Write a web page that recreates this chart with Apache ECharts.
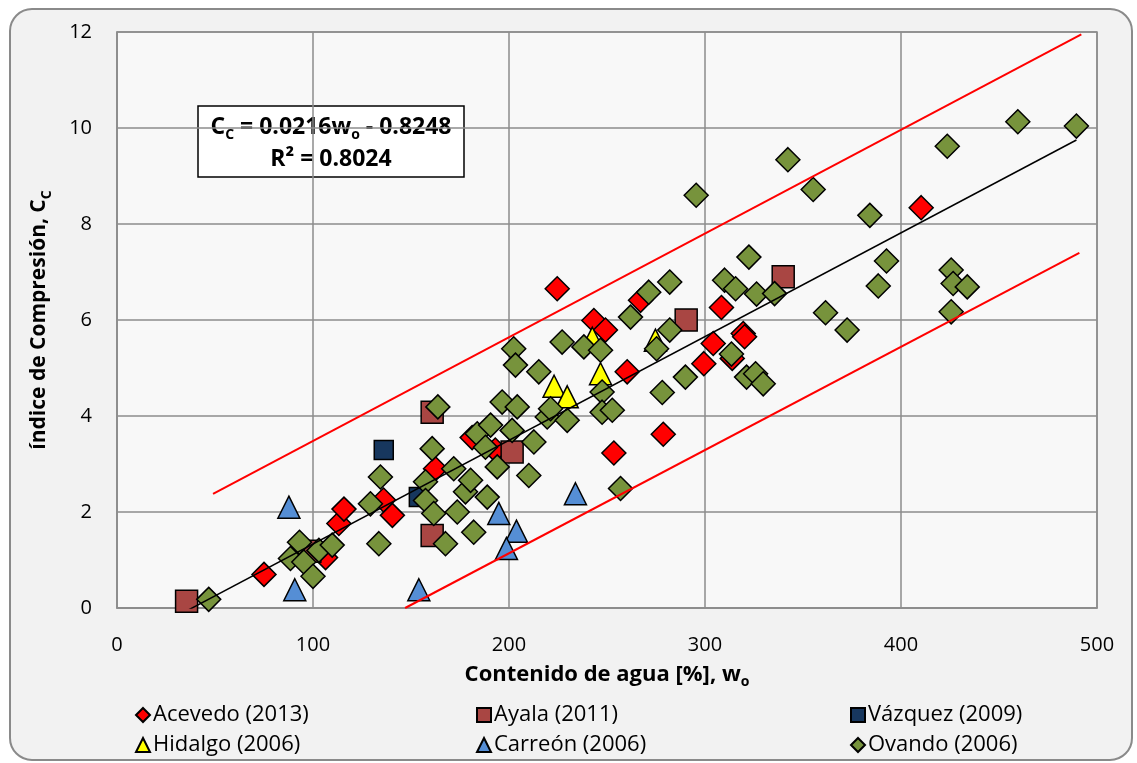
<!DOCTYPE html>
<html>
<head>
<meta charset="utf-8">
<script src="https://cdn.jsdelivr.net/npm/echarts@6/dist/echarts.min.js"></script>
<style>
  html, body { margin: 0; padding: 0; background: #ffffff; }
  #chart { width: 1137px; height: 763px; }
</style>
</head>
<body>
<div id="chart"></div>
<script>
// valores (w0 [%], Cc)
const acevedo = [[75,0.70],[106.4,1.05],[113.2,1.76],[115.8,2.06],[136,2.25],[140.5,1.93],[162.5,2.90],
  [181.2,3.55],[193,3.29],[224.6,6.65],[243.3,5.99],[249.2,5.79],[253.5,3.23],[260.3,4.92],[267.1,6.41],
  [278.7,3.62],[299.4,5.09],[304.2,5.51],[308.4,6.26],[313.9,5.20],[319.5,5.72],[320.2,5.65],[410.3,8.34]];
const ayala = [[35.5,0.14],[98.4,1.18],[160.8,4.08],[160.8,1.51],[201.6,3.25],[290.4,6.00],[339.9,6.90]];
const vazquez = [[136.1,3.29],[154,2.31]];
const hidalgo = [[223,4.62],[229.7,4.40],[246.7,4.88],[242.5,5.62],[274.7,5.58]];
const carreon = [[87.7,2.10],[90.7,0.38],[154,0.38],[194.8,1.97],[203.8,1.60],[198.7,1.24],[233.9,2.38]];
const ovando = [[46.8,0.18],[88.5,1.03],[93.1,1.37],[95.3,0.96],[100,0.66],[103,1.20],[109.8,1.31],
  [129.3,2.17],[133.6,1.34],[134.4,2.73],[157.4,2.63],[157.4,2.24],[160.8,3.32],[161.6,1.97],[163.7,4.19],
  [167.6,1.34],[171.8,2.90],[173.6,2.00],[177.8,2.42],[180.4,2.66],[182,1.58],[183.8,3.63],[188,3.35],
  [188.9,2.31],[190.6,3.81],[194,2.94],[196.5,4.29],[201.6,3.70],[202.4,5.40],[203.3,5.06],[204.2,4.19],
  [210.1,2.76],[212.7,3.46],[215.2,4.92],[219.5,3.98],[221.2,4.15],[227.1,5.54],[229.7,3.91],[238.2,5.44],
  [246.7,5.37],[247.5,4.50],[247.5,4.08],[252.7,4.12],[256.9,2.49],[262,6.06],[271.3,6.58],[275.3,5.40],
  [278.2,4.49],[282,6.79],[282,5.79],[290,4.81],[295.5,8.60],[310,6.83],[313.5,5.29],[315.6,6.65],
  [321.2,4.81],[322.4,7.31],[325.8,4.88],[326.3,6.54],[329.7,4.67],[335.5,6.55],[342.3,9.34],[355.2,8.72],
  [361.5,6.15],[372.5,5.79],[384.1,8.18],[388.4,6.71],[392.6,7.23],[423.6,9.62],[425.6,7.04],[426.6,6.76],
  [433.8,6.69],[425.6,6.17],[459.6,10.13],[489.5,10.04]];
// recta de ajuste y limites
const trendLine = [[36,-0.05],[489.5,9.75]];
const upperLine = [[49,2.38],[492,11.95]];
const lowerLine = [[147,0],[491,7.40]];

const xTicks = [0,100,200,300,400,500];
const yTicks = [0,2,4,6,8,10,12];

const FONT = 'Open Sans';
let chart = echarts.init(document.getElementById('chart'));

function pts(name, data, symbol, size, color, z) {
  return {
    name: name,
    type: 'scatter',
    data: data,
    symbol: symbol,
    symbolSize: size,
    itemStyle: { color: color, borderColor: '#000', borderWidth: 1.5, opacity: 1 },
    emphasis: { disabled: true },
    z: z
  };
}

function ln(data, color, w) {
  return {
    type: 'line',
    data: data,
    showSymbol: false,
    silent: true,
    lineStyle: { color: color, width: w },
    z: 10
  };
}

function legendAt(name, left, top) {
  return {
    data: [name],
    left: left,
    top: top,
    itemWidth: 14,
    itemHeight: 14,
    itemGap: 0,
    padding: 0,
    selectedMode: false,
    textStyle: { fontFamily: FONT, fontSize: 22, color: '#000', padding: [0, 0, 0, -2] }
  };
}

let option = {
  animation: false,
  backgroundColor: '#ffffff',
  graphic: [
    {
      type: 'rect', z: -10, silent: true,
      shape: { x: 10, y: 9, width: 1122, height: 751, r: 22 },
      style: { fill: '#f2f2f2', stroke: '#8a8a8a', lineWidth: 2 }
    },
    {
      type: 'group', z: 100,
      children: [
        {
          type: 'rect',
          shape: { x: 198, y: 106, width: 266, height: 71 },
          style: { fill: '#ffffff', stroke: '#000', lineWidth: 1.5 }
        },
        {
          type: 'text',
          style: {
            x: 331, y: 127, text: 'C{s|C} = 0.0216w{s|o} - 0.8248',
            align: 'center', verticalAlign: 'middle',
            fontFamily: FONT, fontWeight: 'bold', fontSize: 23, fill: '#000',
            rich: { s: { fontFamily: FONT, fontWeight: 'bold', fontSize: 14, padding: [16, 0, 0, 0] } }
          }
        },
        {
          type: 'text',
          style: {
            x: 331, y: 159, text: 'R² = 0.8024',
            align: 'center', verticalAlign: 'middle',
            fontFamily: FONT, fontWeight: 'bold', fontSize: 23, fill: '#000'
          }
        }
      ]
    }
  ],
  grid: {
    left: 117, right: 40, top: 32, bottom: 155,
    show: true, backgroundColor: '#f8f8f8', borderColor: '#8c8c8c', borderWidth: 1.5
  },
  xAxis: {
    type: 'value', min: xTicks[0], max: xTicks[xTicks.length - 1], interval: 100,
    name: 'Contenido de agua [%], w{s|o}',
    nameLocation: 'middle', nameGap: 52,
    nameTextStyle: {
      fontFamily: FONT, fontWeight: 'bold', fontSize: 22, color: '#000',
      rich: { s: { fontFamily: FONT, fontWeight: 'bold', fontSize: 14, padding: [15, 0, 0, 0] } }
    },
    axisLine: { show: true, lineStyle: { color: '#8c8c8c', width: 1.5 } },
    axisTick: { show: false },
    axisLabel: { fontFamily: FONT, fontSize: 20, color: '#000', margin: 27 },
    splitLine: { show: true, lineStyle: { color: '#8c8c8c', width: 1.5 } }
  },
  yAxis: {
    type: 'value', min: yTicks[0], max: yTicks[yTicks.length - 1], interval: 2,
    name: 'índice de Compresión, C{s|C}',
    nameLocation: 'middle', nameGap: 63, nameRotate: 90,
    nameTextStyle: {
      fontFamily: FONT, fontWeight: 'bold', fontSize: 21, color: '#000',
      rich: { s: { fontFamily: FONT, fontWeight: 'bold', fontSize: 14, padding: [15, 0, 0, 0] } }
    },
    axisLine: { show: true, lineStyle: { color: '#8c8c8c', width: 1.5 } },
    axisTick: { show: false },
    axisLabel: { fontFamily: FONT, fontSize: 20, color: '#000', margin: 25 },
    splitLine: { show: true, lineStyle: { color: '#8c8c8c', width: 1.5 } }
  },
  legend: [
    legendAt('Acevedo (2013)', 135, 704),
    legendAt('Ayala (2011)', 476, 704),
    legendAt('Vázquez (2009)', 850, 704),
    legendAt('Hidalgo (2006)', 135, 734),
    legendAt('Carreón (2006)', 476, 734),
    legendAt('Ovando (2006)', 850, 734)
  ],
  series: [
    pts('Acevedo (2013)', acevedo, 'diamond', 24, '#ff0000', 2),
    pts('Ayala (2011)', ayala, 'rect', 22, '#a94643', 2),
    pts('Vázquez (2009)', vazquez, 'rect', 19, '#17375e', 2),
    pts('Hidalgo (2006)', hidalgo, 'triangle', [22, 22], '#ffff00', 2),
    pts('Carreón (2006)', carreon, 'triangle', [22, 22], '#558ed5', 2),
    pts('Ovando (2006)', ovando, 'diamond', 24, '#77933c', 2),
    ln(trendLine, '#000000', 1.5),
    ln(upperLine, '#ff0000', 2),
    ln(lowerLine, '#ff0000', 2)
  ]
};

chart.setOption(option);
</script>
</body>
</html>
